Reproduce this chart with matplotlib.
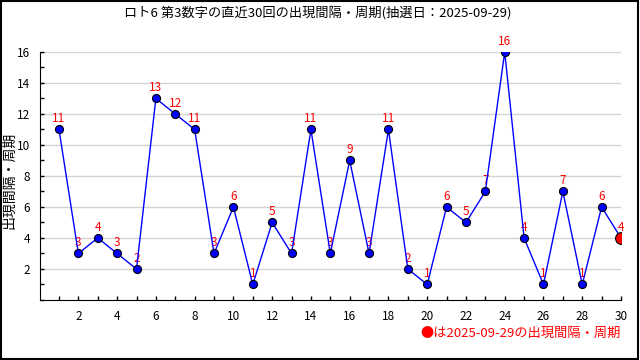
import numpy as np
import matplotlib.pyplot as plt
from matplotlib.ticker import MultipleLocator

plt.rcParams['font.family'] = ['Noto Sans CJK JP', 'DejaVu Sans']

# 直近30回の出現間隔
kai = list(range(1, 31))
kankaku = [11, 3, 4, 3, 2, 13, 12, 11, 3, 6, 1, 5, 3, 11, 3, 9, 3, 11, 2, 1,
           6, 5, 7, 16, 4, 1, 7, 1, 6, 4]
title = 'ロト6 第3数字の直近30回の出現間隔・周期(抽選日：2025-09-29)'
ylabel = '出現間隔・周期'
note = '●は2025-09-29の出現間隔・周期'

fig = plt.figure(figsize=(6.4, 3.6), dpi=100)
ax = fig.add_axes([0.0625, 0.1667, 0.9078, 0.6889])

ax.plot(kai, kankaku, color='#0000ff', lw=1, marker='o', ms=5.8,
        mfc='#0000ff', mec='black', mew=0.8, zorder=3)
ax.plot(kai[-1], kankaku[-1], marker='o', ms=8.5, mfc='#ff0000', mec='black',
        mew=0.8, zorder=4)

for x, y in zip(kai, kankaku):
    ax.annotate(str(y), (x, y), xytext=(0, 3), textcoords='offset points',
                ha='center', va='bottom', color='#ff0000', fontsize=8.5, zorder=2)

ax.set_xlim(0.02, 30)
ax.set_ylim(0, 16)
ax.xaxis.set_minor_locator(MultipleLocator(1))
ax.yaxis.set_minor_locator(MultipleLocator(1))
ax.set_yticks(range(2, 17, 2))
ax.set_xticks(range(2, 31, 2))
ax.tick_params(which='both', direction='in', length=3, width=1, labelsize=8.5)
ax.tick_params(axis='y', pad=7)
ax.tick_params(axis='x', pad=7)
ax.yaxis.grid(True, color='#d3d3d3', lw=1, zorder=0)
ax.set_axisbelow(True)
for s in ['top', 'right']:
    ax.spines[s].set_visible(False)

fig.text(0.014, 0.5, ylabel, rotation=90, ha='center', va='center', fontsize=10)
fig.text(0.497, 0.965, title, ha='center', va='center', fontsize=9.5)
fig.text(0.97, 0.075, note, ha='right', va='center', color='#ff0000', fontsize=9.5)

fig.patches.append(plt.Rectangle((0.001, 0.002), 0.996, 0.995, transform=fig.transFigure,
                                 fill=False, ec='black', lw=1.5))

fig.savefig('out.png', dpi=100)
